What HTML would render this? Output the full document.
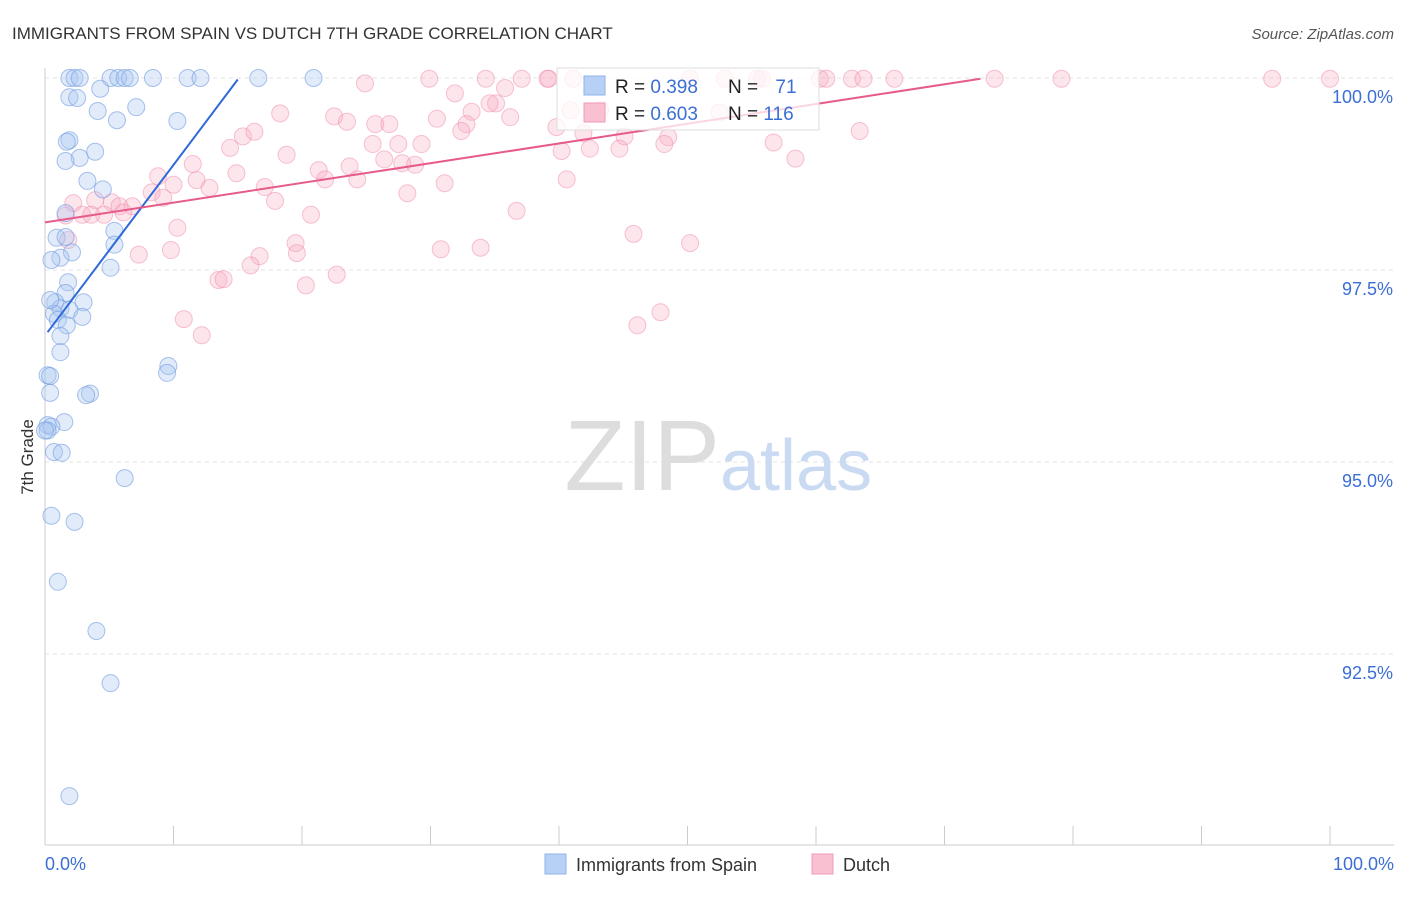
<!DOCTYPE html>
<html><head><meta charset="utf-8"><style>
body{margin:0;background:#fff;font-family:"Liberation Sans",sans-serif;}
svg text{font-family:"Liberation Sans",sans-serif;}
</style></head><body>
<svg id="chart" width="1406" height="892">
<text x="12" y="39" font-size="17" fill="#333">IMMIGRANTS FROM SPAIN VS DUTCH 7TH GRADE CORRELATION CHART</text>
<text x="1394" y="39" font-size="15" fill="#555" text-anchor="end" font-style="italic">Source: ZipAtlas.com</text>
<text x="0" y="0" transform="translate(33,457) rotate(-90)" font-size="17" fill="#333" text-anchor="middle">7th Grade</text>
<g id="grid"></g>
<text x="720" y="490" font-size="100" fill="#ddd" text-anchor="end" font-family="Liberation Serif">ZIP</text>
<text x="720" y="490" font-size="72" fill="#c9daf2">atlas</text>
<g id="pts"></g>
<g id="lines"></g>
<g>
<rect x="557" y="68" width="262" height="62" fill="#fff" fill-opacity="0.75" stroke="#ddd"/>
<rect x="584" y="76" width="21" height="19" fill="#b7d0f5" stroke="#8fb3e8"/>
<rect x="584" y="103" width="21" height="19" fill="#f9c0d1" stroke="#f09ab6"/>
<text x="615" y="93" font-size="19" fill="#222">R = <tspan fill="#3b6fd4">0.398</tspan></text>
<text x="728" y="93" font-size="19" fill="#222">N = <tspan fill="#3b6fd4" dx="12">71</tspan></text>
<text x="615" y="120" font-size="19" fill="#222">R = <tspan fill="#3b6fd4">0.603</tspan></text>
<text x="728" y="120" font-size="19" fill="#222">N = <tspan fill="#3b6fd4">116</tspan></text>
</g>
<g>
<rect x="545" y="854" width="21" height="20" fill="#b7d0f5" stroke="#8fb3e8"/>
<text x="576" y="871" font-size="18" fill="#333">Immigrants from Spain</text>
<rect x="812" y="854" width="21" height="20" fill="#f9c0d1" stroke="#f09ab6"/>
<text x="843" y="871" font-size="18" fill="#333">Dutch</text>
</g>
</svg>
<script>
const yTicks=[92.5,95.0,97.5,100.0];
const xTickLabels=["0.0%","100.0%"];
const blueX=[1.9,2.3,2.7,5.1,5.7,6.2,6.6,8.4,11.1,12.1,16.6,20.9,4.3,1.9,2.5,4.1,5.6,7.1,10.3,1.9,1.7,3.9,2.7,1.6,3.3,4.5,1.6,0.9,1.6,5.4,5.4,2.1,1.2,0.5,5.1,1.8,1.6,0.8,3.0,1.2,1.9,0.7,2.9,1.0,1.7,1.2,1.2,0.2,0.4,9.6,9.5,3.5,3.2,0.4,1.5,0.2,0.5,0.7,1.3,6.2,0.5,2.3,1.0,4.0,5.1,1.9,0.4,0.2,0.0];
const blueY=[100,100,100,100,100,100,100,100,100,100,100,100,99.86,99.75,99.74,99.57,99.45,99.62,99.44,99.19,99.17,99.04,98.96,98.92,98.66,98.55,98.24,97.92,97.93,98.01,97.83,97.73,97.66,97.63,97.53,97.34,97.20,97.08,97.08,97.0,96.98,96.93,96.89,96.85,96.78,96.64,96.43,96.13,96.12,96.25,96.16,95.89,95.87,95.9,95.52,95.48,95.46,95.13,95.12,94.79,94.3,94.22,93.44,92.8,92.12,90.65,97.11,95.41,95.41];
const pinkX=[29.9,34.3,37.1,39.1,39.2,41.1,50.2,52.9,55.4,55.8,60.3,60.8,62.8,63.7,66.1,73.9,79.1,95.5,100,24.9,31.9,35.8,35.1,34.6,33.2,36.2,30.5,22.5,18.3,23.5,25.7,26.8,32.8,32.4,39.8,41.9,45.1,48.5,48.2,44.7,40.2,42.4,25.5,27.5,29.3,18.8,14.4,15.4,16.3,11.5,14.9,11.8,8.8,21.3,23.7,21.8,24.3,26.4,27.8,28.8,31.1,40.6,28.2,17.1,12.8,10.0,8.3,9.2,3.9,2.2,5.2,5.8,6.8,4.6,6.1,2.9,3.6,1.6,17.9,20.7,36.7,10.3,1.8,45.8,50.2,19.5,19.6,16.7,7.3,9.8,16.0,22.7,30.8,33.9,13.5,13.9,20.3,10.8,12.2,47.9,46.1,63.4,56.7,58.4,52.5,43.2,40.9];
const pinkY=[99.99,99.99,99.99,99.99,99.99,99.99,99.99,99.99,99.99,99.99,99.99,99.99,99.99,99.99,99.99,99.99,99.99,99.99,99.99,99.93,99.8,99.87,99.67,99.67,99.56,99.49,99.47,99.5,99.54,99.43,99.4,99.4,99.4,99.31,99.36,99.28,99.24,99.23,99.14,99.08,99.05,99.08,99.14,99.14,99.14,99.0,99.09,99.24,99.3,98.88,98.76,98.67,98.72,98.8,98.85,98.68,98.68,98.94,98.89,98.87,98.63,98.68,98.5,98.58,98.57,98.61,98.51,98.44,98.41,98.37,98.38,98.33,98.33,98.22,98.25,98.22,98.22,98.21,98.4,98.22,98.27,98.05,97.89,97.97,97.85,97.85,97.72,97.68,97.7,97.76,97.56,97.44,97.77,97.79,97.37,97.38,97.3,96.86,96.65,96.95,96.78,99.31,99.16,98.95,99.55,99.58,99.58];
const blueLine=[[0.2,96.69],[15.0,99.98]];
const pinkLine=[[0.0,98.12],[72.8,99.99]];
const X=v=>45+v*12.85;
const Y=v=>78+(100-v)*76.8;
const NS="http://www.w3.org/2000/svg";
const grid=document.getElementById('grid');
function mk(tag,attrs,parent){const e=document.createElementNS(NS,tag);for(const k in attrs)e.setAttribute(k,attrs[k]);parent.appendChild(e);return e;}
yTicks.forEach(t=>{
 const l=mk('line',{x1:45,x2:1394,y1:Y(t),y2:Y(t),stroke:'#e3e3e3','stroke-dasharray':'4,4'},grid);
 
 
 const tx=mk('text',{x:1393,y:Y(t)+25,'font-size':18,fill:'#3b6fd4','text-anchor':'end'},grid);
 tx.textContent=t.toFixed(1)+'%';
 
 
});
const ax=mk('line',{x1:45,x2:45,y1:68,y2:845,stroke:'#ccc'},grid);


const bx=mk('line',{x1:45,x2:1394,y1:845,y2:845,stroke:'#ccc'},grid);


for(let i=0;i<=10;i++){
 const t=mk('line',{x1:X(i*10),x2:X(i*10),y1:826,y2:845,stroke:'#ccc'},grid);
 
 
}
[[0,'start',45],[1,'end',1394]].forEach(([i,a,x])=>{
 const t=mk('text',{x:x,y:870,'font-size':18,fill:'#3b6fd4','text-anchor':a},grid);
 t.textContent=xTickLabels[i];
 
 
});
const pts=document.getElementById('pts');
pinkX.forEach((v,i)=>{
 const c=mk('circle',{cx:X(v),cy:Y(pinkY[i]),r:8.5,fill:'#f7a8c0','fill-opacity':0.3,stroke:'#f08aab','stroke-opacity':0.5},pts);
 
 
});
blueX.forEach((v,i)=>{
 const c=mk('circle',{cx:X(v),cy:Y(blueY[i]),r:8.5,fill:'#a8c6f2','fill-opacity':0.35,stroke:'#6f9be0','stroke-opacity':0.6},pts);
 
 
});
const lines=document.getElementById('lines');
const bl=mk('line',{x1:X(blueLine[0][0]),y1:Y(blueLine[0][1]),x2:X(blueLine[1][0]),y2:Y(blueLine[1][1]),stroke:'#2f6ad6','stroke-width':2},lines);


const pl=mk('line',{x1:X(pinkLine[0][0]),y1:Y(pinkLine[0][1]),x2:X(pinkLine[1][0]),y2:Y(pinkLine[1][1]),stroke:'#e65b8a','stroke-width':2},lines);


</script>
</body></html>
